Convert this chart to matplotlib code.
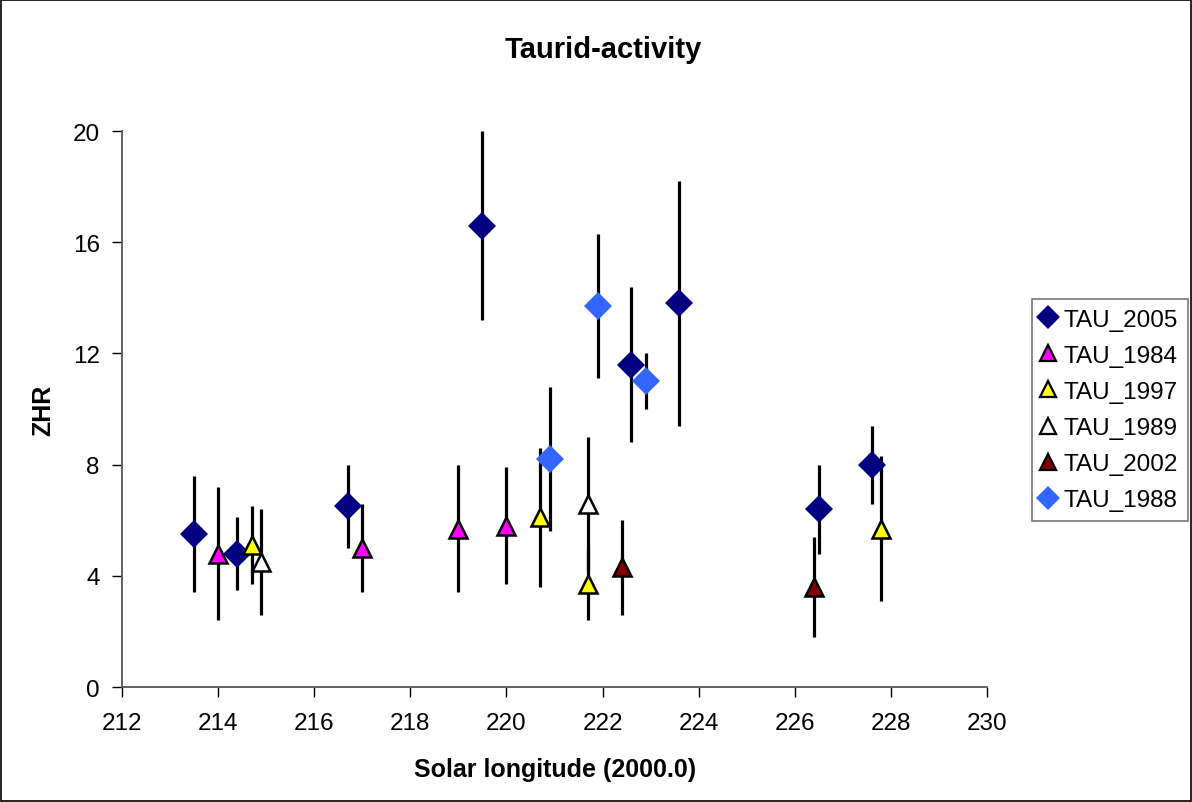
import matplotlib
matplotlib.use("Agg")
import matplotlib.pyplot as plt
from matplotlib.lines import Line2D
from matplotlib.patches import Rectangle

plt.rcParams['font.family'] = ['Liberation Sans', 'DejaVu Sans']

# data: solar longitude, ZHR, +/- error
tau_2005_x = [213.5, 214.4, 216.7, 219.5, 222.6, 223.6, 226.5, 227.6]
tau_2005_y = [5.5, 4.8, 6.5, 16.6, 11.6, 13.8, 6.4, 8.0]
tau_2005_err = [2.1, 1.3, 1.5, 3.4, 2.8, 4.4, 1.6, 1.4]

tau_1984_x = [214.0, 217.0, 219.0, 220.0]
tau_1984_y = [4.8, 5.0, 5.7, 5.8]
tau_1984_err = [2.4, 1.6, 2.3, 2.1]

tau_1997_x = [214.7, 220.7, 221.7, 227.8]
tau_1997_y = [5.1, 6.1, 3.7, 5.7]
tau_1997_err = [1.4, 2.5, 1.3, 2.6]

tau_1989_x = [214.9, 221.7]
tau_1989_y = [4.5, 6.6]
tau_1989_err = [1.9, 2.4]

tau_2002_x = [222.4, 226.4]
tau_2002_y = [4.3, 3.6]
tau_2002_err = [1.7, 1.8]

tau_1988_x = [220.9, 221.9, 222.9]
tau_1988_y = [8.2, 13.7, 11.0]
tau_1988_err = [2.6, 2.6, 1.0]

series = [
    ("TAU_2005", tau_2005_x, tau_2005_y, tau_2005_err, "D", "#000080", "#000080"),
    ("TAU_1984", tau_1984_x, tau_1984_y, tau_1984_err, "^", "#FF00FF", "black"),
    ("TAU_1997", tau_1997_x, tau_1997_y, tau_1997_err, "^", "#FFFF00", "black"),
    ("TAU_1989", tau_1989_x, tau_1989_y, tau_1989_err, "^", "white", "black"),
    ("TAU_2002", tau_2002_x, tau_2002_y, tau_2002_err, "^", "#800000", "black"),
    ("TAU_1988", tau_1988_x, tau_1988_y, tau_1988_err, "D", "#3366FF", "#3366FF"),
]

fig = plt.figure(figsize=(11.92, 8.03), dpi=100)
ax = fig.add_axes([0.1023, 0.1432, 0.7257, 0.6924])

handles = []
for name, xs, ys, errs, mk, fc, ec in series:
    ms = 14 if mk == "D" else 13
    mew = 0 if mk == "D" else 1.8
    ax.errorbar(xs, ys, yerr=errs, fmt="none", ecolor="black", elinewidth=2.3,
                capsize=0, zorder=2)
    ax.plot(xs, ys, linestyle="none", marker=mk, markersize=ms,
            markerfacecolor=fc, markeredgecolor=ec, markeredgewidth=mew, zorder=3)
    handles.append(Line2D([], [], linestyle="none", marker=mk,
                          markersize=ms * 0.85, markerfacecolor=fc,
                          markeredgecolor=ec, markeredgewidth=mew * 0.9, label=name))

ax.set_xlim(212, 230)
ax.set_ylim(0, 20)
ax.set_xticks(range(212, 231, 2))
ax.set_yticks(range(0, 21, 4))
ax.tick_params(direction="out", length=7, width=1.0, labelsize=17.5, colors="black")
ax.tick_params(axis="x", pad=11)
ax.tick_params(axis="y", pad=9)
for s in ["top", "right"]:
    ax.spines[s].set_visible(False)
for s in ["left", "bottom"]:
    ax.spines[s].set_color("#555555")
    ax.spines[s].set_linewidth(1.3)

fig.text(0.506, 0.938, "Taurid-activity", ha="center", va="center",
         fontsize=21, fontweight="bold")
fig.text(0.036, 0.489, "ZHR", ha="center", va="center", rotation=90,
         fontsize=18, fontweight="bold")
fig.text(0.466, 0.041, "Solar longitude (2000.0)", ha="center", va="center",
         fontsize=18, fontweight="bold")

leg = fig.legend(handles=handles, loc="upper left",
                 bbox_to_anchor=(0.8658, 0.6264), bbox_transform=fig.transFigure,
                 borderaxespad=0, fontsize=17.5, frameon=True, fancybox=False,
                 handlelength=0.55, handletextpad=0.35, labelspacing=0.58,
                 borderpad=0.4)
leg.get_frame().set_edgecolor("#555555")
leg.get_frame().set_linewidth(1.2)

fig.patches.append(Rectangle((0.001, 0.001), 0.998, 0.998, transform=fig.transFigure,
                             fill=False, edgecolor="black", linewidth=1.2))

fig.savefig("out.png", dpi=100)
